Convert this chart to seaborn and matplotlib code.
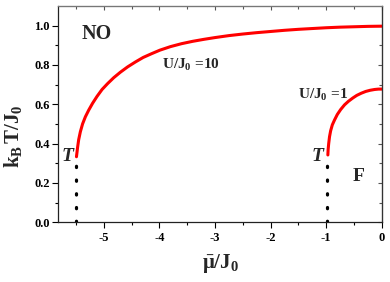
import numpy as np
import matplotlib.pyplot as plt
import pandas as pd
import seaborn as sns

# Kurven gelesen aus dem Bild
mu_u10 = [-5.49, -5.47, -5.45, -5.42, -5.38, -5.33, -5.27, -5.20, -5.12, -5.03,
          -4.93, -4.82, -4.70, -4.57, -4.43, -4.29, -4.14, -3.99, -3.80, -3.60,
          -3.40, -3.20, -3.00, -2.75, -2.50, -2.25, -2.00, -1.75, -1.50, -1.25,
          -1.00, -0.75, -0.50, -0.25, 0.00]
t_u10 = [0.333, 0.38, 0.42, 0.46, 0.50, 0.536, 0.57, 0.605, 0.64, 0.675,
         0.705, 0.735, 0.763, 0.79, 0.815, 0.838, 0.857, 0.875, 0.893, 0.908,
         0.920, 0.930, 0.939, 0.949, 0.957, 0.964, 0.970, 0.976, 0.981, 0.985,
         0.989, 0.992, 0.994, 0.996, 0.997]

mu_u1 = [-0.97, -0.965, -0.955, -0.94, -0.92, -0.89, -0.85, -0.80, -0.74,
         -0.67, -0.60, -0.52, -0.45, -0.37, -0.29, -0.21, -0.13, -0.06, 0.0]
t_u1 = [0.342, 0.37, 0.40, 0.435, 0.465, 0.495, 0.52, 0.548, 0.573,
        0.597, 0.615, 0.632, 0.645, 0.656, 0.665, 0.671, 0.675, 0.677, 0.677]

# Trikritische Punkte (gepunktete Linien)
mu_tri = [-5.5, -0.99]
t_tri_top = [0.31, 0.31]

sns.set_style('ticks')
plt.rcParams['font.family'] = ['Liberation Serif', 'DejaVu Serif']
plt.rcParams['font.weight'] = 'bold'
plt.rcParams['mathtext.fontset'] = 'custom'
plt.rcParams['mathtext.rm'] = 'Liberation Serif:bold'
plt.rcParams['mathtext.bf'] = 'Liberation Serif:bold'
plt.rcParams['mathtext.it'] = 'Liberation Serif:bold'

fig = plt.figure(figsize=(3.9, 2.82), dpi=100)
ax = fig.add_axes([0.149, 0.212, 0.830, 0.767])

d10 = pd.DataFrame({'mu': mu_u10, 'T': t_u10})
d1 = pd.DataFrame({'mu': mu_u1, 'T': t_u1})
sns.lineplot(data=d10, x='mu', y='T', color='#ff0000', linewidth=2.2,
             sort=False, ax=ax)
sns.lineplot(data=d1, x='mu', y='T', color='#ff0000', linewidth=2.2,
             sort=False, ax=ax)

for m, t in zip(mu_tri, t_tri_top):
    ax.plot([m, m], [0, t], color='black', linewidth=2.3,
            linestyle=(0, (0.4, 3.9)), dash_capstyle='round')

ax.set_xlim(-5.82, 0)
ax.set_ylim(0, 1.1)
xt = [-5, -4, -3, -2, -1, 0]
yt = [0.0, 0.2, 0.4, 0.6, 0.8, 1.0]
ax.set_xticks(xt)
ax.set_xticklabels(['-5', '-4', '-3', '-2', '-1', '0'])
ax.set_xticks(np.arange(-5.5, 0, 1.0), minor=True)
ax.set_yticks(yt)
ax.set_yticks(np.arange(0.1, 1.1, 0.2), minor=True)

ax.tick_params(which='both', width=0.8, labelsize=9, colors='black',
               direction='out')
ax.tick_params(axis='x', which='major', length=4, pad=3)
ax.tick_params(axis='x', which='minor', length=2.5)
ax.tick_params(axis='y', which='major', length=4, pad=2)
ax.tick_params(axis='y', which='minor', length=2.5)
for lab in ax.get_xticklabels() + ax.get_yticklabels():
    lab.set_fontweight('bold')

# Ticks oben und rechts nach innen
top = ax.secondary_xaxis('top')
top.set_xticks(xt)
top.set_xticks(np.arange(-5.5, 0, 1.0), minor=True)
top.tick_params(which='major', direction='in', length=3, width=0.8,
                labeltop=False, colors='#555555')
top.tick_params(which='minor', direction='in', length=2, width=0.8,
                colors='#555555')
right = ax.secondary_yaxis('right')
right.set_yticks(yt)
right.set_yticks(np.arange(0.1, 1.1, 0.2), minor=True)
right.tick_params(which='major', direction='in', length=3, width=0.8,
                  labelright=False, colors='#555555')
right.tick_params(which='minor', direction='in', length=2, width=0.8,
                  colors='#555555')
top.spines['top'].set_color('#777777')
right.spines['right'].set_color('#333333')

for s in ax.spines.values():
    s.set_linewidth(0.9)
ax.spines['left'].set_color('#222222')
ax.spines['bottom'].set_color('#222222')
ax.spines['top'].set_color('#777777')
ax.spines['right'].set_color('#333333')

ax.set_xlabel(r'$\bar{\mu}/J_0$', fontsize=15, labelpad=6)
ax.set_ylabel(r'$k_B\,T/J_0$', fontsize=15)
ax.yaxis.set_label_coords(-0.105, 0.40)

ax.text(-5.12, 0.958, 'NO', fontsize=14.5, fontweight='bold',
        ha='center', va='center')
ax.text(-3.96, 0.78, r'U/J$_0$ =10', fontsize=11, fontweight='bold',
        ha='left', va='baseline')
ax.text(-1.51, 0.626, r'U/J$_0$ =1', fontsize=11, fontweight='bold',
        ha='left', va='baseline')
ax.text(-5.65, 0.336, 'T', fontsize=14, fontweight='bold', style='italic',
        ha='center', va='center')
ax.text(-1.15, 0.336, 'T', fontsize=14, fontweight='bold', style='italic',
        ha='center', va='center')
ax.text(-0.41, 0.235, 'F', fontsize=14, fontweight='bold',
        ha='center', va='center')

fig.savefig('out.png', dpi=100)
